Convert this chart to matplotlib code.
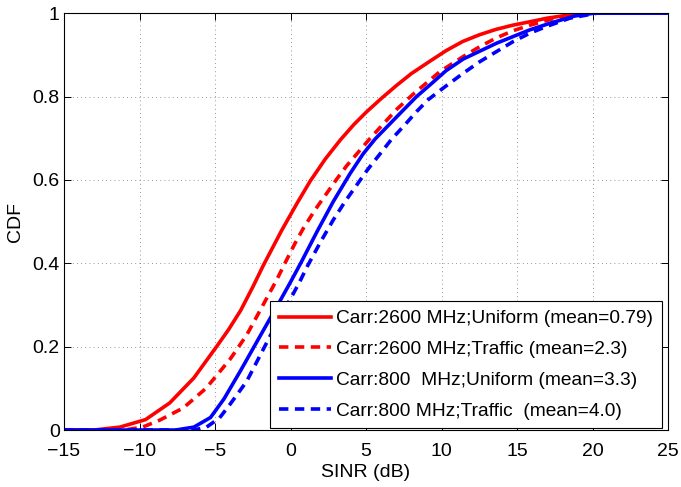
import matplotlib
matplotlib.use('Agg')
import matplotlib.pyplot as plt

plt.rcParams['font.family'] = ['Liberation Sans', 'DejaVu Sans']

# SINR (dB) / CDF points
x_2600_uni = [-15, -13.0, -11.3, -9.6, -8.0, -6.4, -4.9, -4.1, -3.3, -2.5, -1.8, -0.6, 0.4, 1.3, 2.3, 3.3,
              4.2, 5.0, 6.0, 7.0, 8.0, 9.2, 10.3, 11.4, 12.5, 13.6, 14.7, 15.8, 17.0, 18.3, 19.8, 25]
y_2600_uni = [0, 0.0, 0.007, 0.025, 0.065, 0.125, 0.2, 0.241, 0.287, 0.343, 0.395, 0.478, 0.542, 0.597, 0.65, 0.696,
              0.733, 0.762, 0.795, 0.826, 0.855, 0.884, 0.91, 0.932, 0.948, 0.961, 0.971, 0.979, 0.988, 0.995, 1.0, 1.0]

x_2600_tra = [-15, -11.0, -9.8, -8.7, -7.1, -5.6, -4.0, -2.9, -2.0, -0.92, -0.26, 0.3, 0.85, 1.62, 2.4,
              3.06, 3.72, 5.28, 7.05, 8.1, 9.9, 11.44, 12.55, 13.65, 14.75, 15.85, 17.6, 19.6, 25]
y_2600_tra = [0, 0.0, 0.007, 0.023, 0.053, 0.1, 0.17, 0.228, 0.288, 0.36, 0.408, 0.448, 0.484, 0.528, 0.568,
              0.602, 0.634, 0.7, 0.77, 0.805, 0.86, 0.896, 0.92, 0.941, 0.958, 0.971, 0.989, 1.0, 1.0]

x_800_uni = [-15, -7.6, -6.4, -5.3, -4.4, -3.3, -2.1, -1.0, 0.0, 0.7, 1.74, 2.83, 3.94, 4.8, 5.6,
             7.05, 8.35, 9.24, 10.3, 11.44, 13.65, 15.85, 17.2, 18.8, 20.1, 25]
y_800_uni = [0, 0, 0.007, 0.03, 0.075, 0.143, 0.22, 0.29, 0.355, 0.402, 0.475, 0.548, 0.615, 0.662, 0.698,
             0.752, 0.8, 0.828, 0.862, 0.89, 0.928, 0.96, 0.976, 0.993, 1.0, 1.0]

x_800_tra = [-15, -6.4, -5.56, -4.7, -4.0, -2.9, -1.8, -0.67, 0.0, 0.6, 1.1, 2.0, 2.83, 3.61, 5.07,
             6.7, 7.47, 8.35, 9.1, 10.1, 11.44, 12.55, 13.65, 14.75, 15.85, 16.95, 18.5, 20.3, 25]
y_800_tra = [0, 0, 0.007, 0.029, 0.062, 0.117, 0.194, 0.273, 0.315, 0.355, 0.392, 0.452, 0.504, 0.548, 0.623,
             0.698, 0.728, 0.764, 0.792, 0.82, 0.856, 0.884, 0.908, 0.932, 0.952, 0.968, 0.988, 1.0, 1.0]

labels = ['Carr:2600 MHz;Uniform (mean=0.79)',
          'Carr:2600 MHz;Traffic (mean=2.3)',
          'Carr:800  MHz;Uniform (mean=3.3)',
          'Carr:800 MHz;Traffic  (mean=4.0)']

xticks = list(range(-15, 26, 5))
yticks = [0, 0.2, 0.4, 0.6, 0.8, 1]

fig = plt.figure(figsize=(6.81, 4.87), dpi=100)
ax = fig.add_axes([0.094, 0.117, 0.887, 0.856])

lw = 2.6
dash = (0, (2.6, 1.8))
ax.plot(x_2600_uni, y_2600_uni, color='#ff0000', lw=lw, label=labels[0])
ax.plot(x_2600_tra, y_2600_tra, color='#ff0000', lw=lw, ls=dash, label=labels[1])
ax.plot(x_800_uni, y_800_uni, color='#0000ff', lw=lw, label=labels[2])
ax.plot(x_800_tra, y_800_tra, color='#0000ff', lw=lw, ls=dash, label=labels[3])

ax.set_xlim(-15, 25)
ax.set_ylim(0, 1)
ax.set_xticks(xticks)
ax.set_yticks(yticks)
ax.set_yticklabels(['0', '0.2', '0.4', '0.6', '0.8', '1'])
ax.set_xticklabels([str(v).replace('-', '\u2212') for v in xticks])
ax.tick_params(direction='in', top=True, right=True, labelsize=14, length=5, width=0.7)
ax.tick_params(axis='x', pad=9)
ax.tick_params(axis='y', pad=3)
ax.grid(True, color='black', ls=(0, (1, 4)), lw=0.6, alpha=0.55)
for s in ax.spines.values():
    s.set_linewidth(0.8)

ax.set_xlabel('SINR (dB)', fontsize=14, labelpad=3)
ax.set_ylabel('CDF', fontsize=14, labelpad=6)

leg = ax.legend(loc='lower right', bbox_to_anchor=(0.990, 0.004), fontsize=13.8,
                fancybox=False, framealpha=1, edgecolor='black', handlelength=2.7,
                borderaxespad=0, borderpad=0.45, labelspacing=0.7, handletextpad=0.3)
leg.get_frame().set_linewidth(0.8)

fig.savefig('out.png', dpi=100)
